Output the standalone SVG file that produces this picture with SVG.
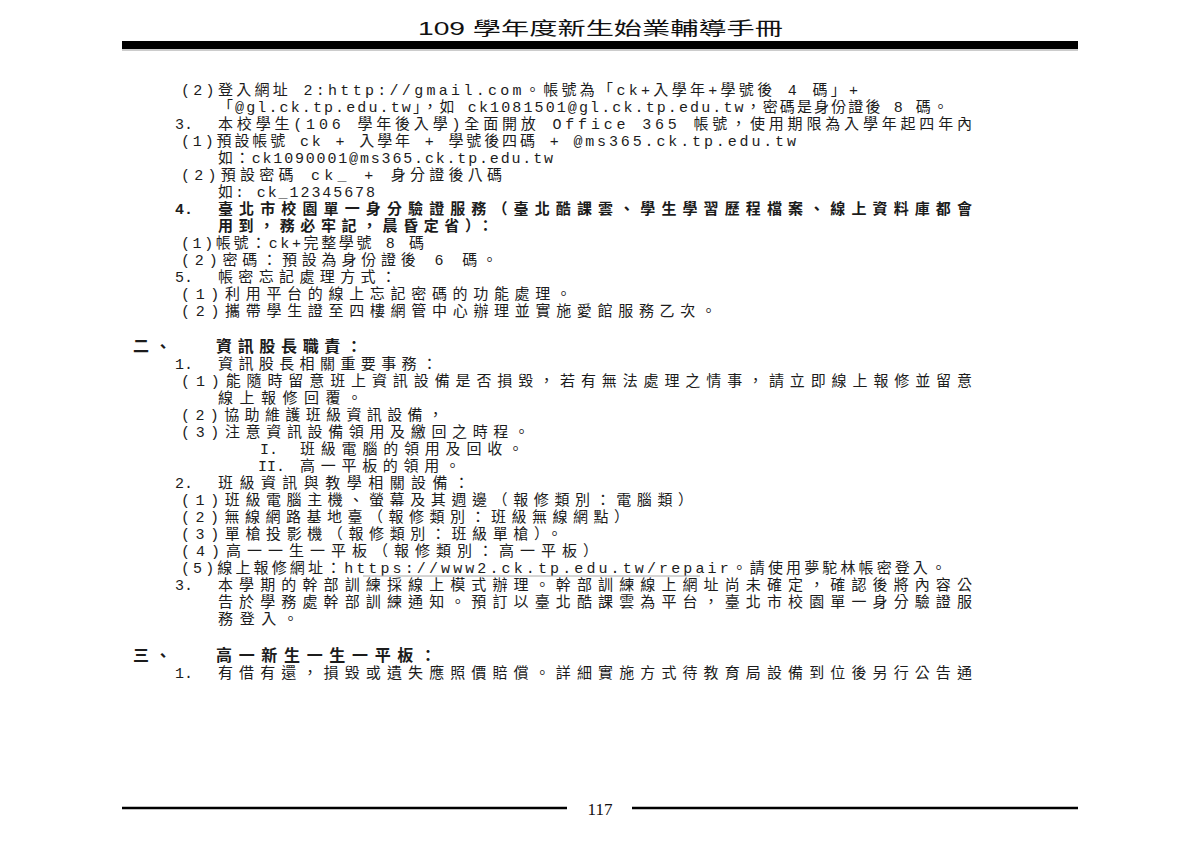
<svg xmlns="http://www.w3.org/2000/svg" width="1200" height="844" viewBox="0 0 1200 844">
<style>
.t{font-family:"Liberation Mono","Noto Sans CJK TC",monospace;font-size:15px;fill:#1c1c1c}
.b{font-family:"Liberation Mono","Noto Sans CJK TC",monospace;font-size:15px;fill:#1c1c1c;font-weight:700}
.h{font-family:"Noto Sans CJK TC",sans-serif;font-size:16px;fill:#1c1c1c;font-weight:700}
.title{font-family:"Liberation Sans","Noto Sans CJK TC",sans-serif;font-size:18px;fill:#111}
.pg{font-family:"Liberation Serif",serif;font-size:17px;fill:#111}
</style>
<rect width="1200" height="844" fill="#fff"/>
<g id="header">
<text class="title" x="418" y="35" textLength="365" lengthAdjust="spacingAndGlyphs">109 學年度新生始業輔導手冊</text>
<rect x="122" y="41" width="956" height="8" fill="#000"/>
<line x1="122" y1="50" x2="1078" y2="50" stroke="#999" stroke-width="1"/>
</g>
<g id="account">
<text class="t" x="181" y="95" textLength="677" lengthAdjust="spacing">(2)登入網址 2:http://gmail.com。帳號為「ck+入學年+學號後 4 碼」+</text>
<text class="t" x="218" y="112" textLength="730" lengthAdjust="spacing">「@gl.ck.tp.edu.tw」，如 ck1081501@gl.ck.tp.edu.tw，密碼是身份證後 8 碼。</text>
<text class="t" x="175" y="129">3.</text>
<text class="t" x="218" y="129" textLength="754" lengthAdjust="spacing">本校學生(106 學年後入學)全面開放 Office 365 帳號，使用期限為入學年起四年內</text>
<text class="t" x="181" y="146" textLength="615" lengthAdjust="spacing">(1)預設帳號 ck + 入學年 + 學號後四碼 + @ms365.ck.tp.edu.tw</text>
<text class="t" x="218" y="163" textLength="335" lengthAdjust="spacing">如：ck1090001@ms365.ck.tp.edu.tw</text>
<text class="t" x="181" y="180" textLength="321" lengthAdjust="spacing">(2)預設密碼 ck_ + 身分證後八碼</text>
<text class="t" x="218" y="197" textLength="157" lengthAdjust="spacing">如: ck_12345678</text>
<text class="b" x="175" y="214">4.</text>
<text class="b" x="218" y="214" textLength="754" lengthAdjust="spacing">臺北市校園單一身分驗證服務（臺北酷課雲、學生學習歷程檔案、線上資料庫都會</text>
<text class="b" x="218" y="231" textLength="275" lengthAdjust="spacing">用到，務必牢記，晨昏定省）：</text>
<text class="t" x="181" y="248" textLength="243" lengthAdjust="spacing">(1)帳號：ck+完整學號 8 碼</text>
<text class="t" x="181" y="265" textLength="316" lengthAdjust="spacing">(2)密碼：預設為身份證後 6 碼。</text>
<text class="t" x="175" y="282">5.</text>
<text class="t" x="218" y="282" textLength="178" lengthAdjust="spacing">帳密忘記處理方式：</text>
<text class="t" x="181" y="299" textLength="390" lengthAdjust="spacing">(1)利用平台的線上忘記密碼的功能處理。</text>
<text class="t" x="181" y="316" textLength="535" lengthAdjust="spacing">(2)攜帶學生證至四樓網管中心辦理並實施愛館服務乙次。</text>
</g>
<g id="section2">
<text class="h" x="133" y="352" textLength="38" lengthAdjust="spacing">二、</text>
<text class="h" x="216" y="352" textLength="146" lengthAdjust="spacing">資訊股長職責：</text>
<text class="t" x="175" y="369">1.</text>
<text class="t" x="218" y="369" textLength="219" lengthAdjust="spacing">資訊股長相關重要事務：</text>
<text class="t" x="181" y="386" textLength="791" lengthAdjust="spacing">(1)能隨時留意班上資訊設備是否損毀，若有無法處理之情事，請立即線上報修並留意</text>
<text class="t" x="218" y="403" textLength="144" lengthAdjust="spacing">線上報修回覆。</text>
<text class="t" x="181" y="420" textLength="262" lengthAdjust="spacing">(2)協助維護班級資訊設備，</text>
<text class="t" x="181" y="437" textLength="348" lengthAdjust="spacing">(3)注意資訊設備領用及繳回之時程。</text>
<text class="t" x="260" y="454">I.</text>
<text class="t" x="300" y="454" textLength="223" lengthAdjust="spacing">班級電腦的領用及回收。</text>
<text class="t" x="258" y="471">II.</text>
<text class="t" x="300" y="471" textLength="160" lengthAdjust="spacing">高一平板的領用。</text>
<text class="t" x="175" y="488">2.</text>
<text class="t" x="218" y="488" textLength="251" lengthAdjust="spacing">班級資訊與教學相關設備：</text>
<text class="t" x="181" y="505" textLength="512" lengthAdjust="spacing">(1)班級電腦主機、螢幕及其週邊（報修類別：電腦類）</text>
<text class="t" x="181" y="522" textLength="448" lengthAdjust="spacing">(2)無線網路基地臺（報修類別：班級無線網點）</text>
<text class="t" x="181" y="539" textLength="381" lengthAdjust="spacing">(3)單槍投影機（報修類別：班級單槍）。</text>
<text class="t" x="181" y="556" textLength="417" lengthAdjust="spacing">(4)高一一生一平板（報修類別：高一平板）</text>
<text class="t" x="181" y="573" textLength="765" lengthAdjust="spacing">(5)線上報修網址：https://www2.ck.tp.edu.tw/repair。請使用夢駝林帳密登入。</text>
<line x1="363" y1="576" x2="700" y2="576" stroke="#aaa" stroke-width="1"/>
<text class="t" x="175" y="590">3.</text>
<text class="t" x="218" y="590" textLength="754" lengthAdjust="spacing">本學期的幹部訓練採線上模式辦理。幹部訓練線上網址尚未確定，確認後將內容公</text>
<text class="t" x="218" y="607" textLength="754" lengthAdjust="spacing">告於學務處幹部訓練通知。預訂以臺北酷課雲為平台，臺北市校園單一身分驗證服</text>
<text class="t" x="218" y="624" textLength="80" lengthAdjust="spacing">務登入。</text>
</g>
<g id="section3">
<text class="h" x="133" y="661" textLength="38" lengthAdjust="spacing">三、</text>
<text class="h" x="216" y="661" textLength="220" lengthAdjust="spacing">高一新生一生一平板：</text>
<text class="t" x="175" y="678">1.</text>
<text class="t" x="218" y="678" textLength="754" lengthAdjust="spacing">有借有還，損毀或遺失應照價賠償。詳細實施方式待教育局設備到位後另行公告通</text>
</g>
<g id="footer">
<line x1="122" y1="808" x2="567" y2="808" stroke="#000" stroke-width="2.5"/>
<line x1="632" y1="808" x2="1078" y2="808" stroke="#000" stroke-width="2.5"/>
<text class="pg" x="600" y="815" text-anchor="middle">117</text>
</g>
</svg>
